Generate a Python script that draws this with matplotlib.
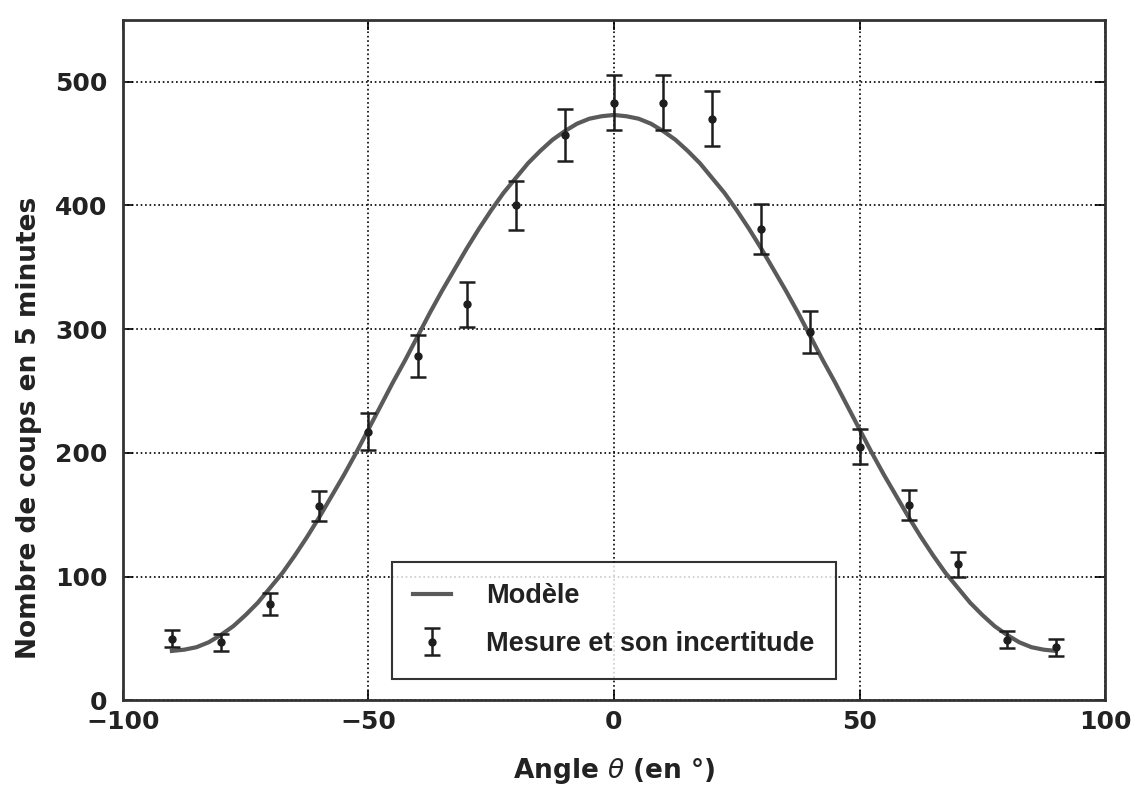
import numpy as np
import matplotlib
matplotlib.use("Agg")
import matplotlib.pyplot as plt

# mesures (angle en degres, nombre de coups, incertitude)
angles = [-90, -80, -70, -60, -50, -40, -30, -20, -10, 0, 10, 20, 30, 40, 50, 60, 70, 80, 90]
coups = [50, 47, 78, 157, 217, 278, 320, 400, 457, 483, 483, 470, 381, 298, 205, 158, 110, 49, 43]
incert = [7, 7, 9, 12, 15, 17, 18, 20, 21, 22, 22, 22, 20, 17, 14, 12, 10, 7, 7]

# modele, tous les 2.5 degres
angles_mod = np.arange(-90, 92.5, 2.5)
coups_mod = [40, 41, 43, 47, 53, 60, 69, 79, 91, 103, 117, 132, 148, 165, 182, 200, 219,
             238, 257, 275, 294, 313, 331, 348, 365, 381, 396, 410, 422, 434, 444, 453, 460,
             466, 470, 472, 473, 472, 470, 466, 460, 453, 444, 434, 422, 410, 396, 381, 365,
             348, 331, 313, 294, 275, 257, 238, 219, 200, 182, 165, 148, 132, 117, 103, 91,
             79, 69, 60, 53, 47, 43, 41, 40]

fig = plt.figure(figsize=(11.37, 7.87), dpi=100)
ax = fig.add_axes([0.108, 0.11, 0.864, 0.865])

ax.plot(angles_mod, coups_mod, color="#5a5a5a", lw=3, label="Modèle", zorder=2)
ax.errorbar(angles, coups, yerr=incert, fmt="o", color="#1e1e1e", ms=5,
            elinewidth=1.8, capsize=6, capthick=1.8,
            label="Mesure et son incertitude", zorder=3)

ax.set_xlim(-100, 100)
ax.set_ylim(0, 550)
ax.set_xticks([-100, -50, 0, 50, 100])
ax.set_yticks([0, 100, 200, 300, 400, 500])
ax.grid(True, linestyle=":", color="black", lw=1.2)
ax.tick_params(direction="in", length=7, width=1.2, top=True, right=True, labelsize=18)
ax.tick_params(axis="x", pad=7)
ax.tick_params(axis="y", pad=11)
for lab in ax.get_xticklabels() + ax.get_yticklabels():
    lab.set_fontweight("bold")
    lab.set_color("#222222")
for s in ax.spines.values():
    s.set_linewidth(2)
    s.set_color("#333333")

ax.set_xlabel("Angle $\\theta$ (en °)", fontsize=19, fontweight="bold", color="#222222",
              labelpad=16)
ax.set_ylabel("Nombre de coups en 5 minutes", fontsize=19, fontweight="bold", color="#222222")
ax.yaxis.set_label_coords(-0.082, 0.40)

leg = ax.legend(loc="lower center", fancybox=False, borderpad=0.8,
                handlelength=1.4, handletextpad=1.3, labelspacing=0.8, borderaxespad=0.8,
                prop={"family": ["Liberation Sans", "DejaVu Sans"], "weight": "bold", "size": 19.5})
leg.get_frame().set_edgecolor("black")
leg.get_frame().set_linewidth(1.5)
for t in leg.get_texts():
    t.set_color("#222222")

fig.savefig("out.png", dpi=100)
